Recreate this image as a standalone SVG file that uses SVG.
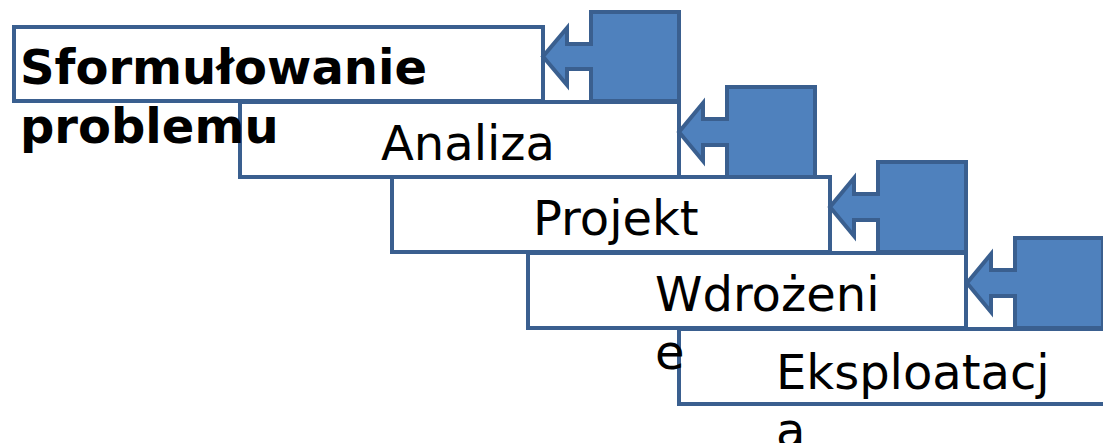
<svg xmlns="http://www.w3.org/2000/svg" width="1103" height="443" viewBox="0 0 1103 443">
<style>
.box{fill:#ffffff;stroke:#3A5F8F;stroke-width:4}
.call{fill:#4F81BD;stroke:#3A5F8F;stroke-width:4;stroke-linejoin:miter}
.t{font-family:"DejaVu Sans",sans-serif;font-size:48px;fill:#000}
.b{font-weight:bold}
</style>
<rect width="1103" height="443" fill="#ffffff"/>
<g id="n1"><rect class="box" x="14" y="27" width="529" height="74"/></g>
<g id="n2"><rect class="box" x="240" y="102" width="439" height="75"/></g>
<g id="n3"><rect class="box" x="392" y="177" width="438" height="75"/></g>
<g id="n4"><rect class="box" x="528" y="253" width="438" height="75"/></g>
<g id="n5"><rect class="box" x="679" y="329" width="440" height="75"/></g>
<g id="connectors">
<path class="call" d="M591,12 H679 V101 H591 V69 H567 V85 L543,56.5 L567,28 V44 H591 Z"/>
<path class="call" d="M727,87 H815 V177 H727 V145 H703 V161 L679,132 L703,103 V119 H727 Z"/>
<path class="call" d="M878,162 H966 V252 H878 V220 H854 V236 L830,207 L854,178 V194 H878 Z"/>
<path class="call" d="M1015,238 H1103 V328 H1015 V296 H991 V312 L967,283 L991,254 V270 H1015 Z"/>
</g>
<g id="labels">
<text class="t b" x="20" y="84">Sformułowanie</text>
<text class="t b" x="20" y="143">problemu</text>
<text class="t" x="381" y="160">Analiza</text>
<text class="t" x="533" y="235">Projekt</text>
<text class="t" x="655" y="311">Wdrożeni</text>
<text class="t" x="655" y="369">e</text>
<text class="t" x="776" y="389">Eksploatacj</text>
<text class="t" x="776" y="447">a</text>
</g>
</svg>
